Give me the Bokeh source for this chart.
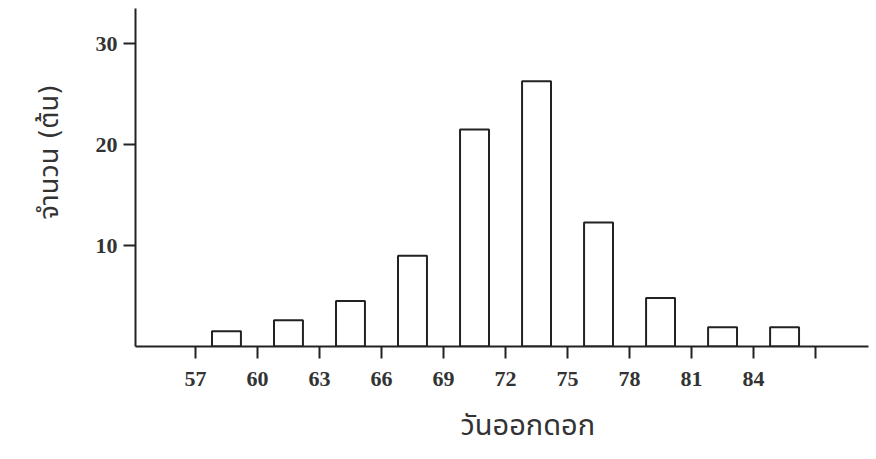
from bokeh.plotting import figure
from bokeh.models import FixedTicker, Range1d, Title
from bokeh.embed import file_html
from bokeh.resources import INLINE

# data
bin_starts = [57, 60, 63, 66, 69, 72, 75, 78, 81, 84]
counts = [1.5, 2.6, 4.5, 9.0, 21.5, 26.3, 12.3, 4.8, 1.9, 1.9]
x_ticks = [57, 60, 63, 66, 69, 72, 75, 78, 81, 84, 87]
x_tick_labels = {87: ""}
y_ticks = [10, 20, 30]
x_title = "วันออกดอก"
y_title = "จำนวน (ต้น)"

bin_width = 3
centers = [b + bin_width / 2 for b in bin_starts]

p = figure(width=876, height=459, output_backend="svg", toolbar_location=None,
           x_range=Range1d(54.1, 89.56), y_range=Range1d(0, 33.5),
           min_border_left=135, min_border_right=8, min_border_top=8,
           min_border_bottom=112)
p.outline_line_color = None
p.xgrid.visible = False
p.ygrid.visible = False
p.background_fill_color = "white"

p.vbar(x=centers, top=counts, bottom=0, width=1.4, fill_color="white",
       line_color="#222222", line_width=2)

serif = "Liberation Serif"
thai_compact = "DejaVu Sans, Noto Sans Thai, Loma, Garuda, sans-serif"

xa = p.xaxis[0]
xa.ticker = FixedTicker(ticks=x_ticks)
xa.major_label_overrides = x_tick_labels
xa.minor_tick_line_color = None
xa.major_tick_in = 0
xa.major_tick_out = 12
xa.major_tick_line_width = 2
xa.axis_line_width = 2
xa.axis_line_color = "#222222"
xa.major_tick_line_color = "#222222"
xa.major_label_text_font = serif
xa.major_label_text_font_size = "22px"
xa.major_label_text_font_style = "bold"
xa.major_label_text_color = "#333333"
xa.major_label_standoff = 13

ya = p.yaxis[0]
ya.ticker = FixedTicker(ticks=y_ticks)
ya.minor_tick_line_color = None
ya.major_tick_in = 0
ya.major_tick_out = 12
ya.major_tick_line_width = 2
ya.axis_line_width = 2
ya.axis_line_color = "#222222"
ya.major_tick_line_color = "#222222"
ya.major_label_text_font = serif
ya.major_label_text_font_size = "22px"
ya.major_label_text_font_style = "bold"
ya.major_label_text_color = "#333333"
ya.major_label_standoff = 6

tx = Title(text=x_title, align="left", offset=325, standoff=35,
           text_font=thai_compact, text_font_size="29px",
           text_font_style="normal", text_color="#333333")
p.add_layout(tx, "below")
ty = Title(text=y_title, align="left", offset=127, standoff=58,
           text_font=thai_compact, text_font_size="27px",
           text_font_style="normal", text_color="#333333")
p.add_layout(ty, "left")

open("out.html", "w").write(file_html(p, INLINE))
